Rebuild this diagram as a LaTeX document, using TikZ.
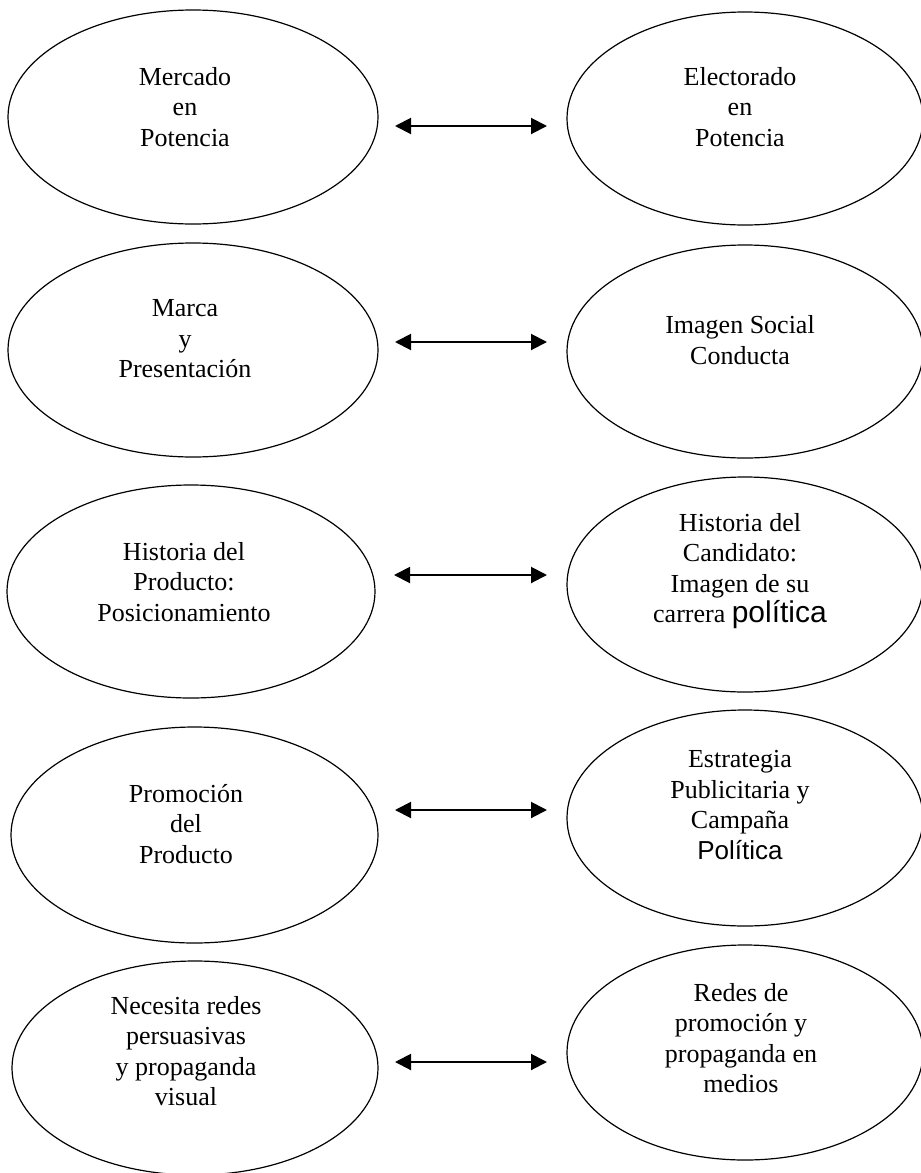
\documentclass[tikz,border=0pt]{standalone}
\usepackage{fontspec}
\setmainfont{Liberation Serif}
\newfontfamily\sansf{Liberation Sans}
\usetikzlibrary{shapes.geometric,arrows.meta}
\tikzset{
  ell/.style={draw, ellipse, line width=1.2pt, inner sep=0pt, outer sep=0pt},
  lell/.style={ell, minimum width=370pt},
  rell/.style={ell, minimum width=356pt},
  txt/.style={align=center, inner sep=0pt, font=\fontsize{26}{30.5}\selectfont},
  dbl/.style={line width=2pt, {Triangle[length=16pt,width=16pt]}-{Triangle[length=16pt,width=16pt]}}
}
\begin{document}
\begin{tikzpicture}[x=1pt,y=-1pt]
\useasboundingbox (0,0) rectangle (921,1173);
\fill[white] (0,0) rectangle (921,1173);
% row 1
\node[lell, minimum height=214pt] (L1) at (193,117) {};
\node[rell, minimum height=213pt] (R1) at (745,118.5) {};
\node[txt] (L1t) at (185,107) {Mercado\\en\\Potencia};
\node[txt] (R1t) at (740,107) {Electorado\\en\\Potencia};
\draw[dbl] ([shift={(17,9)}]L1.east) -- ([shift={(-20,7.5)}]R1.west);
% row 2
\node[lell, minimum height=214pt] (L2) at (193,350) {};
\node[rell, minimum height=213pt] (R2) at (745,351.5) {};
\node[txt] (L2t) at (185,339) {Marca\\y\\Presentación};
\node[txt] (R2t) at (740,340) {Imagen Social\\Conducta};
\draw[dbl] ([shift={(17,-8)}]L2.east) -- ([shift={(-20,-9.5)}]R2.west);
% row 3
\node[ell, minimum width=368pt, minimum height=213pt] (L3) at (191,591.5) {};
\node[rell, minimum height=215pt] (R3) at (745,584.5) {};
\node[txt] (L3t) at (184,582) {Historia del\\Producto:\\Posicionamiento};
\node[txt] (R3t) at (740,571) {Historia del\\Candidato:\\Imagen de su\\carrera {\sansf\fontsize{30}{30.5}\selectfont política}};
\draw[dbl] ([shift={(19,-16.5)}]L3.east) -- ([shift={(-20,-9.5)}]R3.west);
% row 4
\node[ell, minimum width=367pt, minimum height=216pt] (L4) at (194.5,835) {};
\node[rell, minimum height=216pt] (R4) at (745,818) {};
\node[txt] (L4t) at (186,824) {Promoción\\del\\Producto};
\node[txt] (R4t) at (740,805) {Estrategia\\Publicitaria y\\Campaña\\{\sansf Política}};
\draw[dbl] ([shift={(17,-25)}]L4.east) -- ([shift={(-20,-8)}]R4.west);
% row 5
\node[ell, minimum width=366pt, minimum height=214pt] (L5) at (195,1068) {};
\node[rell, minimum height=215pt] (R5) at (745,1052.5) {};
\node[txt] (L5t) at (186,1051) {Necesita redes\\persuasivas\\y propaganda\\visual};
\node[txt] (R5t) at (741,1038) {Redes de\\promoción y\\propaganda en\\medios};
\draw[dbl] ([shift={(17,-6)}]L5.east) -- ([shift={(-20,9.5)}]R5.west);
\end{tikzpicture}
\end{document}
